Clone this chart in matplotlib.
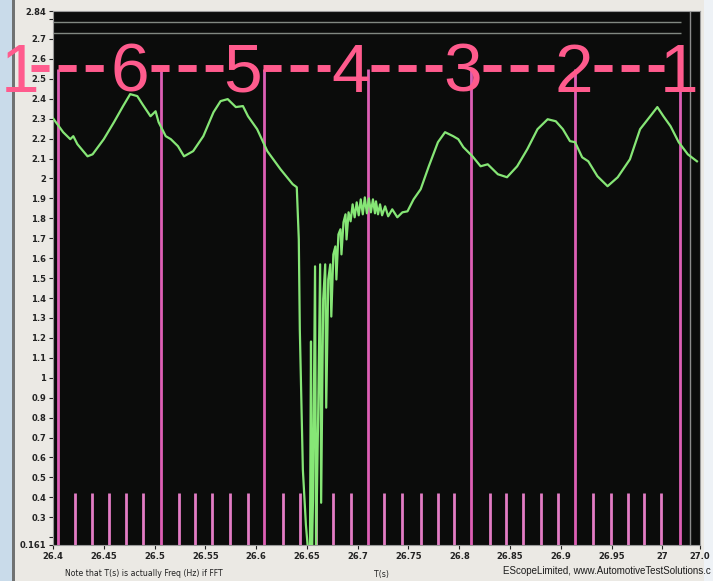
import matplotlib
matplotlib.use("Agg")
import matplotlib.pyplot as plt
from matplotlib.patches import Rectangle

# ---- data ----
time_s = [26.400, 26.410, 26.417, 26.420, 26.424, 26.434, 26.439, 26.450, 26.460, 26.469,
          26.476, 26.483, 26.488, 26.496, 26.501, 26.504, 26.511, 26.516, 26.523, 26.529,
          26.538, 26.548, 26.558, 26.565, 26.572, 26.580, 26.587, 26.592, 26.601, 26.611,
          26.624, 26.636, 26.640, 26.642, 26.643, 26.646, 26.649, 26.651, 26.653, 26.654,
          26.655, 26.656, 26.658, 26.659, 26.661, 26.663, 26.664, 26.666, 26.668, 26.669,
          26.671, 26.673, 26.674, 26.676, 26.678, 26.679, 26.681, 26.683, 26.684, 26.686,
          26.688, 26.689, 26.691, 26.693, 26.695, 26.697, 26.699, 26.701, 26.703, 26.705,
          26.707, 26.709, 26.711, 26.713, 26.715, 26.717, 26.718, 26.720, 26.722, 26.724,
          26.727, 26.730, 26.734, 26.739, 26.744, 26.749, 26.755, 26.762, 26.770, 26.779,
          26.786, 26.794, 26.799, 26.804, 26.813, 26.821, 26.828, 26.838, 26.847, 26.857,
          26.867, 26.877, 26.887, 26.895, 26.902, 26.909, 26.914, 26.921, 26.927, 26.936,
          26.946, 26.956, 26.968, 26.978, 26.988, 26.995, 27.001, 27.008, 27.016, 27.025,
          27.034]
voltage = [2.302, 2.232, 2.197, 2.212, 2.172, 2.111, 2.121, 2.197, 2.282, 2.363,
           2.423, 2.413, 2.373, 2.312, 2.337, 2.282, 2.212, 2.197, 2.162, 2.111,
           2.137, 2.212, 2.332, 2.388, 2.398, 2.358, 2.363, 2.312, 2.247, 2.137,
           2.046, 1.971, 1.956, 1.694, 1.242, 0.539, 0.262, 0.140, 0.160, 1.182,
           0.140, 0.388, 1.559, 0.140, 0.790, 1.569, 0.373, 1.393, 1.569, 0.850,
           1.493, 1.569, 1.307, 1.619, 1.659, 1.493, 1.719, 1.745, 1.619, 1.780,
           1.820, 1.694, 1.830, 1.785, 1.870, 1.805, 1.880, 1.815, 1.895, 1.820,
           1.905, 1.825, 1.900, 1.830, 1.895, 1.825, 1.885, 1.820, 1.870, 1.815,
           1.860, 1.810, 1.845, 1.805, 1.830, 1.835, 1.895, 1.946, 2.061, 2.182,
           2.232, 2.212, 2.197, 2.157, 2.111, 2.061, 2.071, 2.021, 2.006, 2.061,
           2.147, 2.247, 2.297, 2.287, 2.247, 2.187, 2.182, 2.106, 2.086, 2.011,
           1.961, 2.006, 2.096, 2.247, 2.312, 2.358, 2.312, 2.262, 2.182, 2.121,
           2.086]

cyl1_marks = [26.4045, 26.506, 26.608, 26.710, 26.812, 26.914, 27.017]
cyl_marks = [26.422, 26.438, 26.455, 26.472, 26.489,
             26.524, 26.540, 26.557, 26.574, 26.592,
             26.626, 26.643, 26.659, 26.676, 26.693,
             26.726, 26.744, 26.762, 26.779, 26.795,
             26.830, 26.846, 26.863, 26.880, 26.897,
             26.932, 26.949, 26.966, 26.982, 26.999]
firing_labels = ["1", "6", "5", "4", "3", "2", "1"]
firing_label_t = [26.3675, 26.476, 26.587, 26.693, 26.803, 26.913, 27.016]

x_ticks = [26.4, 26.45, 26.5, 26.55, 26.6, 26.65, 26.7, 26.75, 26.8, 26.85, 26.9, 26.95, 27.0, 27.037]
x_tick_labels = ["26.4", "26.45", "26.5", "26.55", "26.6", "26.65", "26.7", "26.75", "26.8",
                 "26.85", "26.9", "26.95", "27", "27.0"]
y_ticks = [0.161, 0.2, 0.3, 0.4, 0.5, 0.6, 0.7, 0.8, 0.9, 1.0, 1.1, 1.2, 1.3, 1.4, 1.5, 1.6,
           1.7, 1.8, 1.9, 2.0, 2.1, 2.2, 2.3, 2.4, 2.5, 2.6, 2.7, 2.8, 2.84]
y_tick_labels = ["0.161", "", "0.3", "0.4", "0.5", "0.6", "0.7", "0.8", "0.9", "1", "1.1",
                 "1.2", "1.3", "1.4", "1.5", "1.6", "1.7", "1.8", "1.9", "2", "2.1", "2.2",
                 "2.3", "2.4", "2.5", "2.6", "2.7", "", "2.84"]
ref_levels = [2.785, 2.730]

X_MIN, X_MAX = 26.4, 27.037
Y_MIN, Y_MAX = 0.161, 2.84

# ---- figure ----
W, H = 713, 581
fig = plt.figure(figsize=(W / 100, H / 100), dpi=100)
fig.patch.set_facecolor("#ebe9e4")

def fx(px):
    return px / W

def fy(py):
    return 1 - py / H

fig.add_artist(Rectangle((0, 0), fx(12), 1, transform=fig.transFigure,
                         facecolor="#c9dbea", edgecolor="none", zorder=0))
fig.add_artist(Rectangle((fx(12), 0), fx(3), 1, transform=fig.transFigure,
                         facecolor="#707272", edgecolor="none", zorder=0))
fig.add_artist(Rectangle((fx(704), 0), fx(9), 1, transform=fig.transFigure,
                         facecolor="#eef2f6", edgecolor="none", zorder=0))

ax = fig.add_axes([fx(53), fy(545), fx(700 - 53), fy(11) - fy(545)])
ax.set_facecolor("#0b0c0b")
ax.set_xlim(X_MIN, X_MAX)
ax.set_ylim(Y_MIN, Y_MAX)
for s in ax.spines.values():
    s.set_color("#9a9a9a")
    s.set_linewidth(0.8)

for lv in ref_levels:
    ax.hlines(lv, X_MIN, 27.018, color="#9fa89f", lw=1.0, alpha=0.8, zorder=1)
ax.vlines(27.027, Y_MIN, Y_MAX, color="#8c8c8c", lw=1.0, zorder=1)

ax.vlines(cyl_marks, Y_MIN, 0.42, color="#e27cc4", lw=2.0, zorder=2)
ax.vlines(cyl1_marks, Y_MIN, 2.55, color="#dd5fb5", lw=2.0, zorder=2)

ax.plot(time_s, voltage, color="#86e676", lw=1.6, zorder=3)

pink = "#ff5b8d"
for lab, t in zip(firing_labels, firing_label_t):
    ax.text(t, 2.435, lab, color=pink, fontsize=50, family="Liberation Sans",
            ha="center", va="baseline", clip_on=False, zorder=5)
# dash groups between the digits ("1" is a narrow glyph, so less clearance)
for i in range(len(firing_label_t) - 1):
    a, b = firing_label_t[i], firing_label_t[i + 1]
    ga = 0.011 if firing_labels[i] == "1" else 0.020
    gb = 0.014 if firing_labels[i + 1] == "1" else 0.020
    ax.plot([a + ga, b - gb], [2.555, 2.555], color=pink, lw=5,
            dashes=(2.6, 1.3), dash_capstyle="butt",
            clip_on=False, zorder=5)

ax.set_xticks(x_ticks)
ax.set_xticklabels(x_tick_labels)
ax.set_yticks(y_ticks)
ax.set_yticklabels(y_tick_labels)
ax.tick_params(axis="both", direction="out", length=3, width=0.8, color="#222222",
               labelsize=6, labelcolor="#222222", pad=2)
for lab in ax.get_xticklabels() + ax.get_yticklabels():
    lab.set_fontweight("bold")

fig.text(fx(65), fy(573), "Note that T(s) is actually Freq (Hz) if FFT", fontsize=5.6,
         color="#222222", ha="left", va="center")
fig.text(fx(381), fy(574), "T(s)", fontsize=5.6, color="#222222", ha="center", va="center")
fig.text(fx(711), fy(571), "EScopeLimited, www.AutomotiveTestSolutions.c", fontsize=7,
         color="#1c1c1c", ha="right", va="center", family="Liberation Sans")

fig.savefig("out.png", dpi=100, facecolor=fig.get_facecolor())
